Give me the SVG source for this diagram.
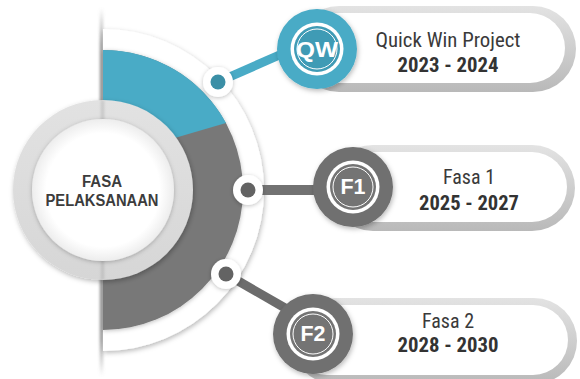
<svg xmlns="http://www.w3.org/2000/svg" width="580" height="379" viewBox="0 0 580 379">
<style>
.t{font-family:"Liberation Sans Narrow","Roboto Condensed","DejaVu Sans Condensed","Liberation Sans",sans-serif;fill:#3a3a3a;text-anchor:middle}
.tb{font-family:"Liberation Sans Narrow","Roboto Condensed","DejaVu Sans Condensed","Liberation Sans",sans-serif;font-weight:bold;fill:#333;text-anchor:middle}
.ct{font-family:"Liberation Sans","DejaVu Sans",sans-serif;font-weight:bold;fill:#3c3c3c;text-anchor:middle;font-size:16px}
.bt{font-family:"Liberation Sans","DejaVu Sans",sans-serif;font-weight:bold;fill:#fff;text-anchor:middle;font-size:22px}
.pillo{fill:url(#pillG)}
.pilli{fill:#fff}
</style>
<defs>
<filter id="sh" x="-30%" y="-30%" width="160%" height="160%"><feDropShadow dx="1" dy="2" stdDeviation="2.5" flood-color="#000" flood-opacity="0.28"/></filter>
<filter id="shs" x="-30%" y="-30%" width="160%" height="160%"><feDropShadow dx="0" dy="1" stdDeviation="2" flood-color="#000" flood-opacity="0.25"/></filter>
<filter id="bl" x="-200%" y="-10%" width="500%" height="120%"><feGaussianBlur stdDeviation="1.6"/></filter>
<linearGradient id="pillG" x1="0" y1="0" x2="0" y2="1"><stop offset="0" stop-color="#e3e3e3"/><stop offset="1" stop-color="#b9b9b9"/></linearGradient>
<linearGradient id="vfade" x1="0" y1="0" x2="0" y2="1"><stop offset="0" stop-color="#888" stop-opacity="0"/><stop offset="0.1" stop-color="#888" stop-opacity="0.9"/><stop offset="0.9" stop-color="#888" stop-opacity="0.9"/><stop offset="1" stop-color="#888" stop-opacity="0"/></linearGradient>
<radialGradient id="inG" cx="0.5" cy="0.5" r="0.5"><stop offset="0.8" stop-color="#ffffff"/><stop offset="1" stop-color="#ededed"/></radialGradient>
<linearGradient id="ringG" x1="0" y1="0" x2="0" y2="1"><stop offset="0" stop-color="#e2e2e2"/><stop offset="1" stop-color="#d6d6d6"/></linearGradient>
</defs>

<g id="background">
<rect x="100" y="8" width="3" height="368" fill="url(#vfade)" filter="url(#bl)"/>
<path d="M103,29 A161,161 0 0 1 103,351 Z" fill="#fff" filter="url(#sh)"/>
<g filter="url(#shs)">
<path d="M103,50 A140,140 0 0 1 103,330 Z" fill="#787878"/>
<path d="M103,50 A140,140 0 0 1 226,123 L103,159 Z" fill="#49abc6"/>
</g>
</g>

<g id="center">
<circle cx="103" cy="190" r="90" fill="url(#ringG)" filter="url(#sh)"/>
<rect x="101.5" y="100" width="2" height="35" fill="#999" opacity="0.6" filter="url(#bl)"/>
<rect x="101.5" y="246" width="2" height="34" fill="#999" opacity="0.6" filter="url(#bl)"/>
<circle cx="103" cy="190" r="71" fill="url(#inG)" filter="url(#shs)"/>
<text class="ct" x="102" y="187" textLength="40" lengthAdjust="spacingAndGlyphs">FASA</text>
<text class="ct" x="102" y="206" textLength="113" lengthAdjust="spacingAndGlyphs">PELAKSANAAN</text>
</g>

<g id="connectors">
<line x1="218" y1="82" x2="284" y2="53" stroke="#49abc6" stroke-width="9"/>
<line x1="248" y1="190" x2="318" y2="190" stroke="#727272" stroke-width="10"/>
<line x1="226" y1="274" x2="292" y2="312" stroke="#6c6c6c" stroke-width="9"/>
</g>

<g id="dot-qw" filter="url(#shs)">
<circle cx="218" cy="82" r="15" fill="#fff"/>
<circle cx="218" cy="82" r="7.5" fill="#3a8fa6"/>
</g>
<g id="dot-f1" filter="url(#shs)">
<circle cx="248" cy="190" r="15" fill="#fff"/>
<circle cx="248" cy="190" r="7.5" fill="#646464"/>
</g>
<g id="dot-f2" filter="url(#shs)">
<circle cx="226" cy="274" r="15" fill="#fff"/>
<circle cx="226" cy="274" r="7.5" fill="#646464"/>
</g>

<g id="qw">
<rect class="pillo" x="296" y="6" width="280" height="86" rx="43"/>
<rect class="pilli" x="296" y="13" width="269" height="70" rx="35"/>
<g filter="url(#sh)">
<circle cx="317" cy="49" r="40" fill="#49abc6"/>
</g>
<circle cx="317" cy="49" r="26.5" fill="#fff"/>
<circle cx="317" cy="49" r="23" fill="#3f9bb5"/>
<circle cx="317" cy="49" r="20" fill="none" stroke="#fff" stroke-width="1"/>
<text class="bt" x="317" y="57" textLength="42" lengthAdjust="spacingAndGlyphs">QW</text>
<text class="t" x="448" y="47" font-size="21" textLength="145" lengthAdjust="spacingAndGlyphs">Quick Win Project</text>
<text class="tb" x="448" y="72" font-size="21" textLength="101" lengthAdjust="spacingAndGlyphs">2023 - 2024</text>
</g>

<g id="f1">
<rect class="pillo" x="330" y="145" width="245" height="86" rx="43"/>
<rect class="pilli" x="330" y="152" width="237" height="70" rx="35"/>
<g filter="url(#sh)">
<circle cx="353" cy="187" r="40" fill="#6f6f6f"/>
</g>
<circle cx="353" cy="187" r="26.5" fill="#fff"/>
<circle cx="353" cy="187" r="23" fill="#747474"/>
<circle cx="353" cy="187" r="20" fill="none" stroke="#fff" stroke-width="1"/>
<text class="bt" x="353" y="194" textLength="25" lengthAdjust="spacingAndGlyphs">F1</text>
<text class="t" x="469" y="184" font-size="21" textLength="52" lengthAdjust="spacingAndGlyphs">Fasa 1</text>
<text class="tb" x="469" y="210" font-size="21" textLength="100" lengthAdjust="spacingAndGlyphs">2025 - 2027</text>
</g>

<g id="f2">
<rect class="pillo" x="292" y="298" width="285" height="86" rx="43"/>
<rect class="pilli" x="292" y="305" width="276" height="70" rx="35"/>
<g filter="url(#sh)">
<circle cx="313" cy="334" r="40" fill="#6f6f6f"/>
</g>
<circle cx="313" cy="334" r="26.5" fill="#fff"/>
<circle cx="313" cy="334" r="23" fill="#747474"/>
<circle cx="313" cy="334" r="20" fill="none" stroke="#fff" stroke-width="1"/>
<text class="bt" x="313" y="341" textLength="25" lengthAdjust="spacingAndGlyphs">F2</text>
<text class="t" x="448" y="328" font-size="21" textLength="52" lengthAdjust="spacingAndGlyphs">Fasa 2</text>
<text class="tb" x="448" y="352" font-size="21" textLength="101" lengthAdjust="spacingAndGlyphs">2028 - 2030</text>
</g>
</svg>
